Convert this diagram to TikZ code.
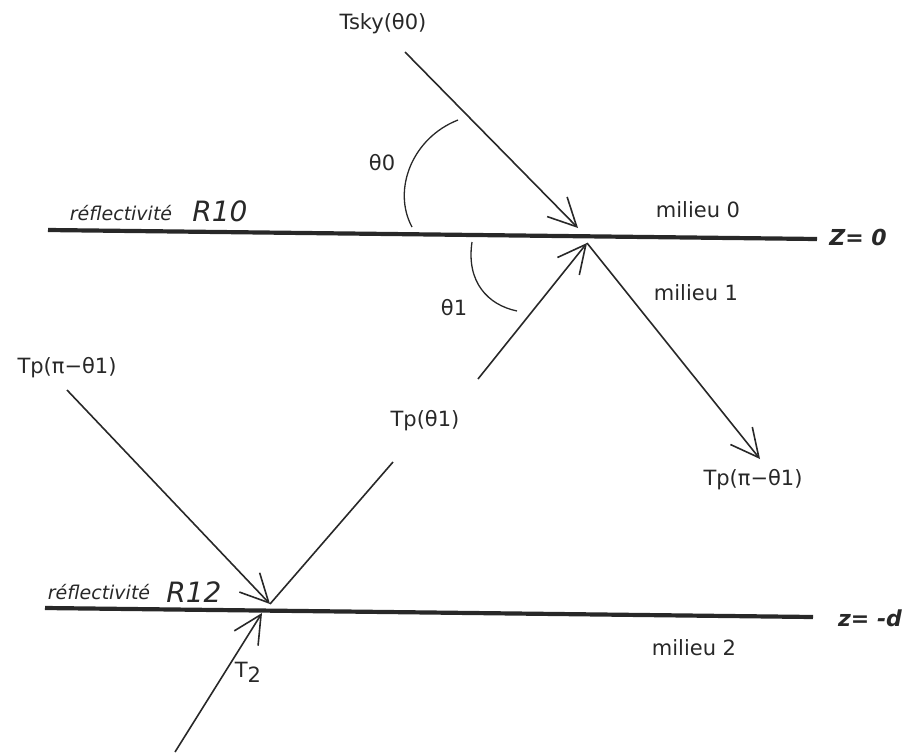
\documentclass[tikz,border=0pt]{standalone}
\usepackage{fontspec}
\setmainfont{DejaVu Sans}
\usetikzlibrary{arrows.meta,positioning,calc}
\definecolor{INK}{RGB}{40,40,40}

\begin{document}
\begin{tikzpicture}[x=1pt,y=-1pt,
  ray/.style={INK, line width=1.6pt},
  rayarrow/.style={ray, -{Straight Barb[length=28pt,width=28pt]}},
  interface/.style={INK, line width=4.2pt},
  lbl/.style={INK, font=\fontsize{21}{23}\selectfont, inner sep=1pt},
  refl/.style={INK, font=\fontsize{19}{21}\selectfont\itshape, inner sep=1pt},
  coef/.style={INK, font=\fontsize{28}{30}\selectfont\itshape, inner sep=1pt},
  zlbl/.style={INK, font=\fontsize{22}{24}\selectfont\bfseries\itshape, inner sep=1pt}]
  \useasboundingbox (0,0) rectangle (910,753);

  % Interface z=0
  \coordinate (i0w) at (48,230);
  \coordinate (i0e) at (817,239);
  \draw[interface] (i0w) -- (i0e);
  \node[zlbl] (z0) at (858,237) {Z= 0};
  \node[refl] (refl0) at (121,213) {réflectivité};
  \node[coef] (r10) at (220,211) {R10};
  \node[lbl] (mil0) at (698,210) {milieu 0};
  \node[lbl] (mil1) at (696,293) {milieu 1};

  % Interface z=-d
  \coordinate (i1w) at (45,608);
  \coordinate (i1e) at (813,617);
  \draw[interface] (i1w) -- (i1e);
  \node[zlbl] (zd) at (870,618) {z= -d};
  \node[refl] (refl1) at (99,592) {réflectivité};
  \node[coef] (r12) at (194,592) {R12};
  \node[lbl] (mil2) at (694,648) {milieu 2};

  % Sky ray
  \node[lbl] (tsky) at (383,24) {Tsky(θ0)};
  \coordinate (sky0) at (405,52);
  \coordinate (hit0) at (578,228);
  \draw[rayarrow] (sky0) -- (hit0);

  % Reflected ray in milieu 1
  \coordinate (out0) at (587,243);
  \coordinate (tipr) at (760,459);
  \draw[rayarrow] (out0) -- (tipr);
  \node[lbl] (tpr) at (753,480) {Tp(π−θ1)};

  % Upgoing ray Tp(theta1)
  \coordinate (hit1) at (270,604);
  \node[lbl] (tp1) at (425,421) {Tp(θ1)};
  \coordinate (up0) at (393,462);
  \coordinate (up1) at (478,379);
  \draw[ray] (hit1) -- (up0);
  \draw[rayarrow] (up1) -- (out0);

  % Downgoing ray onto z=-d
  \node[lbl] (tpl) at (67,368) {Tp(π−θ1)};
  \coordinate (dn0) at (67,390);
  \draw[rayarrow] (dn0) -- (hit1);

  % Ray from milieu 2
  \coordinate (t2s) at (175,752);
  \coordinate (t2e) at (262,613);
  \draw[rayarrow] (t2s) -- (t2e);
  \node[lbl] (t2) at (248,672) {T\raisebox{-5pt}{2}};

  % Angles
  \draw[ray, line width=1.3pt] (458,120) .. controls (412,138) and (392,190) .. (412,227);
  \node[lbl] (th0) at (382,163) {θ0};
  \draw[ray, line width=1.3pt] (472,242) .. controls (466,282) and (488,305) .. (517,311);
  \node[lbl] (th1) at (454,308) {θ1};
\end{tikzpicture}
\end{document}
